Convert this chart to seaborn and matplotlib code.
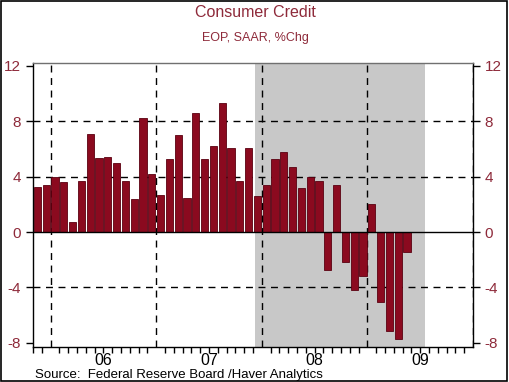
import numpy as np
import pandas as pd
import matplotlib
matplotlib.use("Agg")
import matplotlib.pyplot as plt
import seaborn as sns
from matplotlib.patches import Rectangle

# Consumer credit, EOP, SAAR, % change (monthly, Nov 2005 - May 2009)
months = pd.period_range("2005-11", "2009-05", freq="M")
pct_chg = [3.25, 3.4, 4.0, 3.6, 0.7, 3.7, 7.1, 5.35, 5.4, 5.0, 3.7, 2.4, 8.2, 4.2,
           2.65, 5.25, 7.0, 2.45, 8.6, 5.25, 6.2, 9.3, 6.1, 3.7, 6.1, 2.6,
           3.4, 5.25, 5.75, 4.7, 3.15, 4.0, 3.7, -2.75, 3.4, -2.15, -4.15, -3.15,
           2.05, -5.05, -7.15, -7.75, -1.45]
year_labels = ["06", "07", "08", "09"]
year_starts = [2006, 2007, 2008, 2009, 2010]
recession = (2007 + 11.2 / 12, 2009 + 6.5 / 12)  # shaded band, in years
yticks = [-8, -4, 0, 4, 8, 12]

red = "#8b0a1f"
txt_red = "#8e2a3a"

df = pd.DataFrame({
    "x": [(p.year - 2006) * 12 + p.month - 0.5 for p in months],
    "val": pct_chg,
})

sns.set_style("white")
plt.rcParams["font.family"] = ["Liberation Sans", "DejaVu Sans"]

fig = plt.figure(figsize=(5.1, 3.82), dpi=100)
ax = fig.add_axes([0.0647, 0.0916, 0.8628, 0.7434])

# recession shading
ax.axvspan((recession[0] - 2006) * 12, (recession[1] - 2006) * 12,
           color="#c8c8c8", lw=0, zorder=0)

sns.barplot(data=df, x="x", y="val", native_scale=True, width=0.83,
            color=red, saturation=1, edgecolor="#5a0010", linewidth=0.6,
            ax=ax, zorder=3)

xs = [(y - 2006) * 12 for y in year_starts]
for xv in xs:
    ax.axvline(xv, color="black", lw=1, ls=(0, (5, 4)), zorder=2)
for yv in [-4, 4, 8]:
    ax.axhline(yv, color="black", lw=1, ls=(0, (5, 4)), zorder=2)
ax.axhline(0, color="black", lw=1, zorder=4)

ax.set_xlim(-2, 48)
ax.set_ylim(-8.3, 12.2)
ax.set_yticks(yticks)
ax.set_yticklabels([str(t) for t in yticks])
ax.set_xticks(xs)
ax.set_xticklabels([])
ax.set_xticks(np.arange(-2, 48), minor=True)
ax.tick_params(axis="x", which="major", length=9, width=1, color="black", direction="out")
ax.tick_params(axis="x", which="minor", length=4, width=1, color="black", direction="out", bottom=True)
ax.tick_params(axis="y", length=5, width=1, color="black", labelsize=11,
               labelcolor=txt_red, direction="out", left=True)
for i, lab in enumerate(year_labels):
    ax.text(xs[i] + 6, -0.022, lab, transform=ax.get_xaxis_transform(),
            ha="center", va="top", fontsize=11.5, color="black")
ax.set_xlabel("")
ax.set_ylabel("")

for s in ["left", "bottom", "right"]:
    ax.spines[s].set_color("black")
    ax.spines[s].set_linewidth(1)
ax.spines["top"].set_color("#707070")
ax.spines["top"].set_linewidth(1)

ax2 = ax.twinx()
ax2.set_ylim(ax.get_ylim())
ax2.set_yticks(yticks)
ax2.set_yticklabels([str(t) for t in yticks])
ax2.tick_params(axis="y", length=5, width=1, color="black", labelsize=11,
                labelcolor=txt_red, direction="out", right=True)
for s in ax2.spines.values():
    s.set_visible(False)

fig.text(0.5, 0.967, "Consumer Credit", ha="center", va="center",
         fontsize=11.5, color=txt_red)
fig.text(0.5, 0.9, "EOP, SAAR, %Chg", ha="center", va="center",
         fontsize=9, color=txt_red)
fig.text(0.068, 0.019, "Source:  Federal Reserve Board /Haver Analytics",
         ha="left", va="center", fontsize=9.5, color="black")

fig.patches.append(Rectangle((0.002, 0.003), 0.993, 0.995, transform=fig.transFigure,
                             fill=False, edgecolor="black", lw=1.2))

fig.savefig("out.png", dpi=100)
